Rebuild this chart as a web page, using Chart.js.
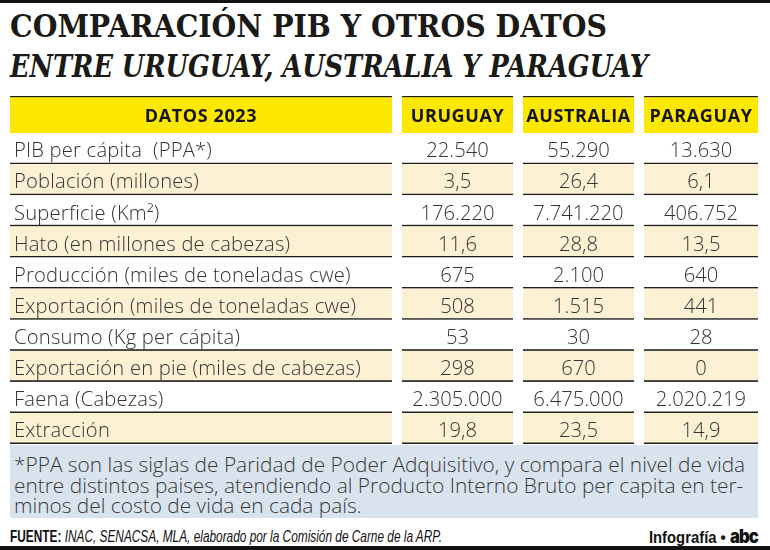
<!DOCTYPE html>
<html lang="es">
<head>
<meta charset="utf-8">
<title>Comparación PIB y otros datos</title>
<script src="https://cdn.jsdelivr.net/npm/chart.js@4/dist/chart.umd.min.js"></script>
<style>
    html, body { margin: 0; padding: 0; background: #fff; }
    #wrap { position: relative; width: 770px; height: 550px; overflow: hidden; background: #fff; }
    .bar { position: absolute; left: 0; width: 770px; background: #111; }
    .bar.top { top: 0; height: 3px; }
    .bar.bottom { top: 546px; height: 4px; }
    .ttl { position: absolute; left: 10px; margin: 0; white-space: nowrap; color: #1c1a17;
           font-family: "DejaVu Serif Condensed", "DejaVu Serif", serif; font-weight: 700;
           font-size: 31px; line-height: 31px; transform-origin: 0 0; display: inline-block; }
    #t1 { top: 11px; }
    #t2 { top: 51px; font-style: italic; }
    #chartBox { position: absolute; left: 10px; top: 96px; width: 748px; height: 348px; }
    #note { position: absolute; left: 10px; top: 445px; width: 744px; height: 73px; padding-left: 4px;
            background: #d8e3ed; color: #3a3a3a; font-family: "Open Sans", Inter, sans-serif; font-weight: 300;
            font-size: 18px; line-height: 20.5px; overflow: hidden; }
    #note div { white-space: nowrap; display: table; }
    #note .first { margin-top: 9px; }
    #foot { position: absolute; left: 10px; top: 527px; width: 748px; height: 19px;
            font-family: "Liberation Sans Narrow", "Liberation Sans", sans-serif; font-size: 16.5px;
            color: #111; line-height: 19px; }
    #foot .src { position: absolute; left: 0; top: 0; white-space: nowrap; transform-origin: 0 50%; }
    #foot .brand { position: absolute; right: 0; top: 0; white-space: nowrap; font-weight: 700; font-size: 17px;
                   transform-origin: 100% 50%; }
    #foot .abc { font-family: Inter, sans-serif; font-weight: 900; letter-spacing: -1px; font-size: 19px; }
</style>
</head>
<body>
<div id="wrap">
    <div class="bar top"></div>
    <h1 class="ttl" id="t1">COMPARACIÓN PIB Y OTROS DATOS</h1>
    <h2 class="ttl" id="t2">ENTRE URUGUAY, AUSTRALIA Y PARAGUAY</h2>
    <div id="chartBox"><canvas id="tableChart" width="748" height="348"></canvas></div>
    <div id="note">
        <div class="first">*PPA son las siglas de Paridad de Poder Adquisitivo, y compara el nivel de vida</div>
        <div>entre distintos paises, atendiendo al Producto Interno Bruto per capita en ter-</div>
        <div>minos del costo de vida en cada país.</div>
    </div>
    <div id="foot">
        <span class="src"><b>FUENTE:</b> <i>INAC, SENACSA, MLA, elaborado por la Comisión de Carne de la ARP.</i></span>
        <span class="brand">Infografía • <span class="abc">abc</span></span>
    </div>
    <div class="bar bottom"></div>
</div>
<script>
// === Data ===
const headerLabel = 'DATOS 2023';
const countries = ['URUGUAY', 'AUSTRALIA', 'PARAGUAY'];
const indicators = [
    'PIB per cápita  (PPA*)',
    'Población (millones)',
    'Superficie (Km²)',
    'Hato (en millones de cabezas)',
    'Producción (miles de toneladas cwe)',
    'Exportación (miles de toneladas cwe)',
    'Consumo (Kg per cápita)',
    'Exportación en pie (miles de cabezas)',
    'Faena (Cabezas)',
    'Extracción'
];
const uruguay   = [22540, 3.5, 176220, 11.6, 675, 508, 53, 298, 2305000, 19.8];
const australia = [55290, 26.4, 7741220, 28.8, 2100, 1515, 30, 670, 6475000, 23.5];
const paraguay  = [13630, 6.1, 406752, 13.5, 640, 441, 28, 0, 2020219, 14.9];

// === Layout / style ===
const colEdges = [[0, 382], [392, 503], [513, 624], [634, 748]];  // x units of the table
const YELLOW = '#ffe800';
const CREAM = '#fdf1d4';
const LINE = '#1e1e1e';
const BODY_FONT = '"Open Sans", Inter, sans-serif';

// spanish number format: 2.305.000 / 3,5
function fmt(v) {
    const s = Number.isInteger(v) ? String(v) : v.toFixed(1);
    const [ip, dp] = s.split('.');
    const grouped = ip.replace(/\B(?=(\d{3})+(?!\d))/g, '.');
    return dp ? grouped + ',' + dp : grouped;
}
const mid = e => (e[0] + e[1]) / 2;

// squeeze/stretch a text block to the width it has in the reference
function fitWidth(el, target) {
    const w = el.getBoundingClientRect().width;
    el.style.transform = `scaleX(${target / w})`;
}

// === Cell text plugin ===
const cellText = {
    id: 'cellText',
    afterDatasetsDraw(chart) {
        const { ctx, scales: { x, y, yh } } = chart;
        ctx.save();
        ctx.textBaseline = 'middle';
        ctx.textAlign = 'center';

        ctx.fillStyle = '#151515';
        ctx.font = `700 18px ${BODY_FONT}`;
        ctx.letterSpacing = '0.6px';
        [headerLabel, ...countries].forEach((t, i) => {
            ctx.fillText(t, x.getPixelForValue(mid(colEdges[i])), yh.getPixelForValue(0) + 2);
        });

        // body size chosen so the longest label spans the same width as in the print
        ctx.letterSpacing = '0.2px';
        ctx.font = `300 18px ${BODY_FONT}`;
        const size = 18 * 348 / ctx.measureText(indicators[7]).width;
        ctx.font = `300 ${size.toFixed(2)}px ${BODY_FONT}`;
        ctx.fillStyle = '#333';
        const cols = [uruguay, australia, paraguay];
        indicators.forEach((label, r) => {
            const py = y.getPixelForValue(r) + 3;
            ctx.textAlign = 'left';
            ctx.letterSpacing = '0.2px';
            ctx.fillText(label, x.getPixelForValue(colEdges[0][0]) + 4, py);
            ctx.textAlign = 'center';
            ctx.letterSpacing = '0px';
            cols.forEach((arr, i) => {
                ctx.fillText(fmt(arr[r]), x.getPixelForValue(mid(colEdges[i + 1])), py);
            });
        });
        ctx.restore();
    }
};

// === Chart setup ===
const headerSets = colEdges.map(edge => ({
    yAxisID: 'yh',
    data: [edge],
    backgroundColor: YELLOW,
    borderColor: LINE,
    borderWidth: { top: 1.5, right: 0, bottom: 0, left: 0 }
}));
const bodySets = colEdges.map(edge => ({
    yAxisID: 'y',
    data: indicators.map(() => edge),
    backgroundColor: ctx => ctx.dataIndex % 2 ? CREAM : '#ffffff',
    borderColor: LINE,
    borderWidth: { top: 0, right: 0, bottom: 1.8, left: 0 }
}));

document.fonts.ready.then(() => {
    fitWidth(document.getElementById('t1'), 597);
    fitWidth(document.getElementById('t2'), 638);
    fitWidth(document.querySelector('#foot .src'), 432);
    fitWidth(document.querySelector('#foot .brand'), 109);
    const note = document.getElementById('note');
    const first = note.querySelector('.first');
    note.style.fontSize = (18 * 731 / first.getBoundingClientRect().width).toFixed(2) + 'px';

    new Chart(document.getElementById('tableChart'), {
        type: 'bar',
        data: { labels: indicators, datasets: [...headerSets, ...bodySets] },
        options: {
            indexAxis: 'y',
            responsive: false,
            animation: false,
            events: [],
            layout: { padding: 0 },
            plugins: { legend: { display: false }, tooltip: { enabled: false } },
            datasets: { bar: { grouped: false, barPercentage: 1, categoryPercentage: 1, borderSkipped: false } },
            scales: {
                x: { type: 'linear', min: 0, max: 748, display: false },
                yh: { axis: 'y', type: 'category', labels: [headerLabel], position: 'left',
                      stack: 'table', stackWeight: 37, weight: 2, offset: true, display: false },
                y: { type: 'category', labels: indicators, position: 'left',
                     stack: 'table', stackWeight: 311, weight: 1, offset: true, display: false }
            }
        },
        plugins: [cellText]
    });
});
</script>
</body>
</html>
